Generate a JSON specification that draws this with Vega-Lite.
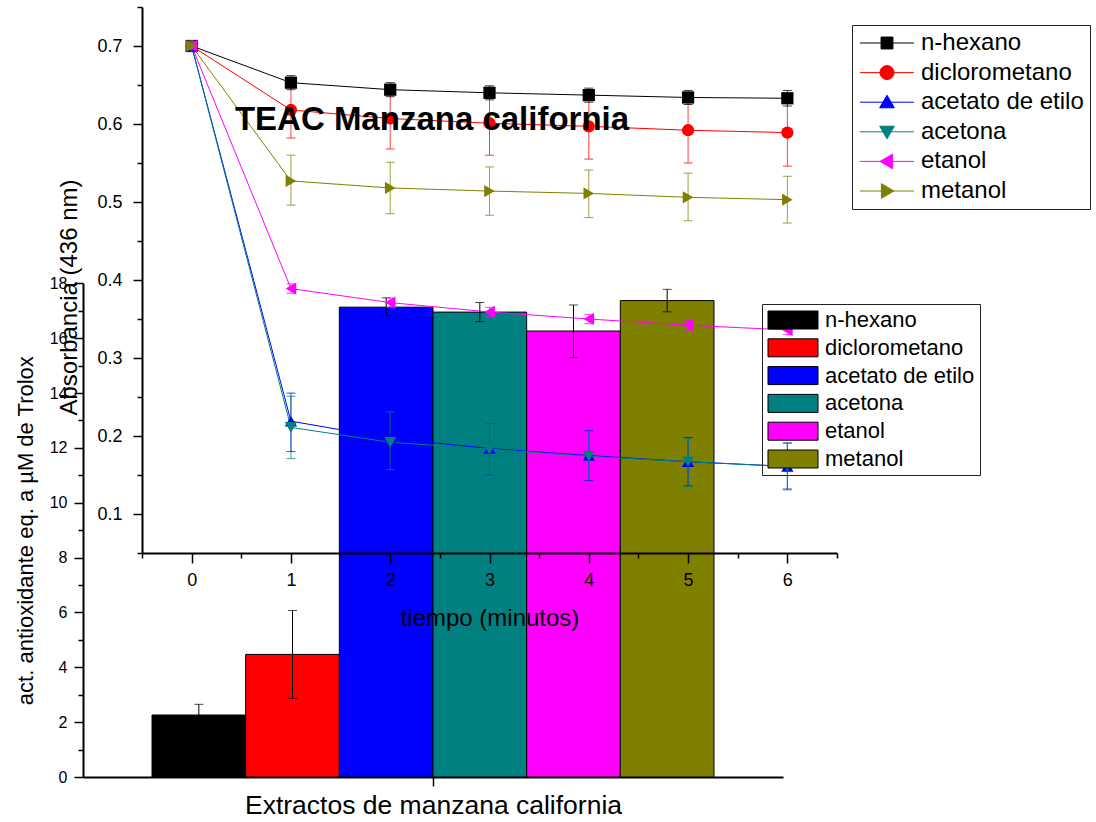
{
  "$schema": "https://vega.github.io/schema/vega-lite/v6.json",
  "autosize": "none",
  "width": 754,
  "height": 770,
  "padding": {"left": 83, "top": 7, "right": 259, "bottom": 45},
  "background": "white",
  "title": {"text": "TEAC Manzana california", "fontSize": 33, "fontWeight": "bold", "font": "Liberation Sans", "color": "black", "anchor": "middle", "frame": "group", "baseline": "alphabetic", "offset": 0, "dx": -28, "dy": 157},
  "config": {
    "font": "Liberation Sans",
    "view": {"stroke": null},
    "axis": {"grid": false, "domainColor": "black", "domainWidth": 2, "tickColor": "black", "tickWidth": 1.5, "labelColor": "black", "titleColor": "black", "titleFontWeight": "normal", "labelFont": "Liberation Sans", "titleFont": "Liberation Sans"},
    "legend": {"labelFont": "Liberation Sans", "labelColor": "black"}
  },
  "datasets": {
    "barras": [
      {"extracto": "manzana california", "solvente": "n-hexano", "valor": 2.26, "lo": 1.87, "hi": 2.65},
      {"extracto": "manzana california", "solvente": "diclorometano", "valor": 4.47, "lo": 2.87, "hi": 6.07},
      {"extracto": "manzana california", "solvente": "acetato de etilo", "valor": 17.13, "lo": 16.82, "hi": 17.47},
      {"extracto": "manzana california", "solvente": "acetona", "valor": 16.95, "lo": 16.6, "hi": 17.3},
      {"extracto": "manzana california", "solvente": "etanol", "valor": 16.26, "lo": 15.29, "hi": 17.21},
      {"extracto": "manzana california", "solvente": "metanol", "valor": 17.37, "lo": 16.96, "hi": 17.78}
    ],
    "cinetica": [
      {"solvente": "n-hexano", "t": 0, "abs": 0.7, "lo": null, "hi": null},
      {"solvente": "n-hexano", "t": 1, "abs": 0.653, "lo": 0.644, "hi": 0.662},
      {"solvente": "n-hexano", "t": 2, "abs": 0.644, "lo": 0.635, "hi": 0.653},
      {"solvente": "n-hexano", "t": 3, "abs": 0.64, "lo": 0.631, "hi": 0.649},
      {"solvente": "n-hexano", "t": 4, "abs": 0.637, "lo": 0.628, "hi": 0.646},
      {"solvente": "n-hexano", "t": 5, "abs": 0.634, "lo": 0.625, "hi": 0.643},
      {"solvente": "n-hexano", "t": 6, "abs": 0.633, "lo": 0.623, "hi": 0.643},
      {"solvente": "diclorometano", "t": 0, "abs": 0.7, "lo": null, "hi": null},
      {"solvente": "diclorometano", "t": 1, "abs": 0.618, "lo": 0.582, "hi": 0.654},
      {"solvente": "diclorometano", "t": 2, "abs": 0.607, "lo": 0.568, "hi": 0.646},
      {"solvente": "diclorometano", "t": 3, "abs": 0.601, "lo": 0.56, "hi": 0.642},
      {"solvente": "diclorometano", "t": 4, "abs": 0.597, "lo": 0.555, "hi": 0.639},
      {"solvente": "diclorometano", "t": 5, "abs": 0.592, "lo": 0.55, "hi": 0.634},
      {"solvente": "diclorometano", "t": 6, "abs": 0.589, "lo": 0.546, "hi": 0.632},
      {"solvente": "acetato de etilo", "t": 0, "abs": 0.7, "lo": null, "hi": null},
      {"solvente": "acetato de etilo", "t": 1, "abs": 0.219, "lo": 0.18, "hi": 0.255},
      {"solvente": "acetato de etilo", "t": 2, "abs": 0.197, "lo": 0.163, "hi": 0.231},
      {"solvente": "acetato de etilo", "t": 3, "abs": 0.184, "lo": 0.15, "hi": 0.216},
      {"solvente": "acetato de etilo", "t": 4, "abs": 0.175, "lo": 0.143, "hi": 0.207},
      {"solvente": "acetato de etilo", "t": 5, "abs": 0.167, "lo": 0.136, "hi": 0.198},
      {"solvente": "acetato de etilo", "t": 6, "abs": 0.161, "lo": 0.132, "hi": 0.191},
      {"solvente": "acetona", "t": 0, "abs": 0.7, "lo": null, "hi": null},
      {"solvente": "acetona", "t": 1, "abs": 0.211, "lo": 0.171, "hi": 0.251},
      {"solvente": "acetona", "t": 2, "abs": 0.192, "lo": 0.157, "hi": 0.231},
      {"solvente": "acetona", "t": 3, "abs": 0.183, "lo": 0.15, "hi": 0.216},
      {"solvente": "acetona", "t": 4, "abs": 0.174, "lo": 0.142, "hi": 0.206},
      {"solvente": "acetona", "t": 5, "abs": 0.167, "lo": 0.135, "hi": 0.197},
      {"solvente": "acetona", "t": 6, "abs": 0.161, "lo": 0.131, "hi": 0.191},
      {"solvente": "etanol", "t": 0, "abs": 0.7, "lo": null, "hi": null},
      {"solvente": "etanol", "t": 1, "abs": 0.389, "lo": 0.383, "hi": 0.395},
      {"solvente": "etanol", "t": 2, "abs": 0.371, "lo": 0.365, "hi": 0.377},
      {"solvente": "etanol", "t": 3, "abs": 0.359, "lo": 0.353, "hi": 0.365},
      {"solvente": "etanol", "t": 4, "abs": 0.35, "lo": 0.344, "hi": 0.356},
      {"solvente": "etanol", "t": 5, "abs": 0.342, "lo": 0.336, "hi": 0.348},
      {"solvente": "etanol", "t": 6, "abs": 0.336, "lo": 0.33, "hi": 0.342},
      {"solvente": "metanol", "t": 0, "abs": 0.7, "lo": null, "hi": null},
      {"solvente": "metanol", "t": 1, "abs": 0.527, "lo": 0.496, "hi": 0.56},
      {"solvente": "metanol", "t": 2, "abs": 0.518, "lo": 0.485, "hi": 0.551},
      {"solvente": "metanol", "t": 3, "abs": 0.514, "lo": 0.483, "hi": 0.545},
      {"solvente": "metanol", "t": 4, "abs": 0.511, "lo": 0.48, "hi": 0.541},
      {"solvente": "metanol", "t": 5, "abs": 0.506, "lo": 0.476, "hi": 0.537},
      {"solvente": "metanol", "t": 6, "abs": 0.503, "lo": 0.473, "hi": 0.533}
    ]
  },
  "layer": [
    {
      "data": {"name": "barras"},
      "encoding": {
        "x": {"field": "extracto", "type": "nominal", "scale": {"range": [0, 700], "paddingInner": 0, "paddingOuter": 0.1228},
          "axis": {"orient": "bottom", "labels": false, "bandPosition": 0.5, "tickSize": 9, "title": "Extractos de manzana california", "titleFontSize": 26.5, "titlePadding": 6}},
        "xOffset": {"field": "solvente", "type": "nominal", "sort": ["n-hexano", "diclorometano", "acetato de etilo", "acetona", "etanol", "metanol"], "scale": {"paddingInner": 0, "paddingOuter": 0}}
      },
      "layer": [
        {
          "mark": {"type": "bar", "stroke": "black", "strokeWidth": 1},
          "encoding": {
            "y": {"field": "valor", "type": "quantitative", "title": "act. antioxidante eq. a µM de Trolox", "scale": {"domain": [0, 18], "range": [770, 276.3], "nice": false},
              "axis": {"orient": "left", "values": [0, 1, 2, 3, 4, 5, 6, 7, 8, 9, 10, 11, 12, 13, 14, 15, 16, 17, 18], "labelExpr": "datum.value % 2 === 0 ? datum.label : ''", "tickSize": {"condition": {"test": "datum.value % 2 === 0", "value": 9}, "value": 5}, "labelFontSize": 16, "labelPadding": 7, "title": "act. antioxidante eq. a µM de Trolox", "titleFontSize": 22, "titlePadding": 12}},
            "fill": {"field": "solvente", "type": "nominal", "scale": {"domain": ["n-hexano", "diclorometano", "acetato de etilo", "acetona", "etanol", "metanol"], "range": ["#000000", "#FF0000", "#0000FF", "#008080", "#FF00FF", "#808000"]},
              "legend": {"orient": "none", "legendX": 679, "legendY": 297, "zindex": -1, "title": null, "padding": 5, "strokeColor": "#222", "labelFontSize": 22, "labelFont": "Liberation Sans", "labelColor": "black", "symbolType": "M-2.778,-1H2.778V1H-2.778Z", "symbolSize": 324, "symbolStrokeColor": "black", "symbolStrokeWidth": 1, "symbolOffset": 15, "labelOffset": 21, "rowPadding": 5.8, "labelLimit": 400}}
          }
        },
        {
          "mark": {"type": "rule", "color": "black", "strokeWidth": 1},
          "encoding": {
            "y": {"field": "lo", "type": "quantitative", "title": "act. antioxidante eq. a µM de Trolox", "scale": {"domain": [0, 18], "range": [770, 276.3], "nice": false}},
            "y2": {"field": "hi"}
          }
        },
        {
          "mark": {"type": "tick", "color": "black", "size": 9, "thickness": 1},
          "encoding": {"y": {"field": "hi", "type": "quantitative", "title": "act. antioxidante eq. a µM de Trolox", "scale": {"domain": [0, 18], "range": [770, 276.3], "nice": false}}}
        },
        {
          "mark": {"type": "tick", "color": "black", "size": 9, "thickness": 1},
          "encoding": {"y": {"field": "lo", "type": "quantitative", "title": "act. antioxidante eq. a µM de Trolox", "scale": {"domain": [0, 18], "range": [770, 276.3], "nice": false}}}
        }
      ]
    },
    {
      "data": {"name": "cinetica"},
      "encoding": {
        "x": {"field": "t", "type": "quantitative", "scale": {"domain": [-0.5, 6.5], "range": [59, 754], "nice": false, "zero": false},
          "axis": {"orient": "bottom", "offset": -224, "values": [-0.5, 0, 0.5, 1, 1.5, 2, 2.5, 3, 3.5, 4, 4.5, 5, 5.5, 6, 6.5], "labelExpr": "datum.value % 1 === 0 ? format(datum.value, 'd') : ''", "labelOverlap": false, "tickSize": {"condition": {"test": "datum.value % 1 === 0", "value": 10}, "value": 5}, "labelFontSize": 18, "labelPadding": 8, "title": "tiempo (minutos)", "titleFontSize": 24, "titlePadding": 17, "zindex": 1}},
        "color": {"field": "solvente", "type": "nominal", "scale": {"domain": ["n-hexano", "diclorometano", "acetato de etilo", "acetona", "etanol", "metanol"], "range": ["#000000", "#FF0000", "#0000FF", "#008080", "#FF00FF", "#808000"]}, "legend": null}
      },
      "layer": [
        {
          "mark": {"type": "line", "strokeWidth": 1},
          "encoding": {
            "y": {"field": "abs", "type": "quantitative", "title": "Absorbancia (436 nm)", "scale": {"domain": [0.05, 0.75], "range": [546, 0], "nice": false, "zero": false},
              "axis": {"orient": "left", "offset": -59, "values": [0.05, 0.1, 0.15, 0.2, 0.25, 0.3, 0.35, 0.4, 0.45, 0.5, 0.55, 0.6, 0.65, 0.7, 0.75], "format": ".1f", "labelExpr": "abs(datum.value*10 - round(datum.value*10)) < 0.001 ? datum.label : ''", "tickSize": {"condition": {"test": "abs(datum.value*10 - round(datum.value*10)) < 0.001", "value": 9}, "value": 5}, "labelFontSize": 18, "labelPadding": 11, "title": "Absorbancia (436 nm)", "titleFontSize": 24, "titlePadding": 15, "titleY": 290, "zindex": 1}}
          }
        },
        {
          "mark": {"type": "rule", "strokeWidth": 1, "opacity": 0.75},
          "encoding": {
            "y": {"field": "lo", "type": "quantitative", "title": "Absorbancia (436 nm)", "scale": {"domain": [0.05, 0.75], "range": [546, 0], "nice": false, "zero": false}},
            "y2": {"field": "hi"}
          }
        },
        {
          "mark": {"type": "tick", "orient": "horizontal", "size": 9, "thickness": 1, "opacity": 0.75},
          "encoding": {"y": {"field": "hi", "type": "quantitative", "title": "Absorbancia (436 nm)", "scale": {"domain": [0.05, 0.75], "range": [546, 0], "nice": false, "zero": false}}}
        },
        {
          "mark": {"type": "tick", "orient": "horizontal", "size": 9, "thickness": 1, "opacity": 0.75},
          "encoding": {"y": {"field": "lo", "type": "quantitative", "title": "Absorbancia (436 nm)", "scale": {"domain": [0.05, 0.75], "range": [546, 0], "nice": false, "zero": false}}}
        },
        {
          "mark": {"type": "point", "filled": true, "size": 150, "opacity": 1},
          "encoding": {
            "y": {"field": "abs", "type": "quantitative", "title": "Absorbancia (436 nm)", "scale": {"domain": [0.05, 0.75], "range": [546, 0], "nice": false, "zero": false}},
            "shape": {"field": "solvente", "type": "nominal", "scale": {"domain": ["n-hexano", "diclorometano", "acetato de etilo", "acetona", "etanol", "metanol"], "range": ["square", "circle", "triangle-up", "triangle-down", "triangle-left", "triangle-right"]}, "legend": null}
          }
        },
        {
          "transform": [{"filter": "false"}],
          "mark": {"type": "point", "filled": true, "size": 196, "strokeWidth": 1, "opacity": 1},
          "encoding": {
            "y": {"field": "abs", "type": "quantitative", "title": "Absorbancia (436 nm)", "scale": {"domain": [0.05, 0.75], "range": [546, 0], "nice": false, "zero": false}},
            "fill": {"field": "solvente", "type": "nominal", "scale": {"domain": ["n-hexano", "diclorometano", "acetato de etilo", "acetona", "etanol", "metanol"], "range": ["#000000", "#FF0000", "#0000FF", "#008080", "#FF00FF", "#808000"]},
              "legend": {"orient": "none", "legendX": 769, "legendY": 18, "title": null, "padding": 6, "strokeColor": "#222", "fillColor": "white", "labelFontSize": 24, "labelFont": "Liberation Sans", "labelColor": "black", "symbolSize": 196, "symbolStrokeWidth": 1, "symbolOpacity": 1, "symbolOffset": 17, "labelOffset": 22, "rowPadding": 5.6, "labelLimit": 400}},
            "stroke": {"field": "solvente", "type": "nominal", "scale": {"domain": ["n-hexano", "diclorometano", "acetato de etilo", "acetona", "etanol", "metanol"], "range": ["#000000", "#FF0000", "#0000FF", "#008080", "#FF00FF", "#808000"]},
              "legend": {"orient": "none", "legendX": 769, "legendY": 18, "title": null, "padding": 6, "strokeColor": "#222", "fillColor": "white", "labelFontSize": 24, "labelFont": "Liberation Sans", "labelColor": "black", "symbolSize": 196, "symbolStrokeWidth": 1, "symbolOpacity": 1, "symbolOffset": 17, "labelOffset": 22, "rowPadding": 5.6, "labelLimit": 400}},
            "shape": {"field": "solvente", "type": "nominal", "scale": {"domain": ["n-hexano", "diclorometano", "acetato de etilo", "acetona", "etanol", "metanol"], "range": ["M-3.857,0H3.857M-0.85,-0.85H0.85V0.85H-0.85Z", "M-3.857,0H3.857M-1,0A1,1 0 1,0 1,0A1,1 0 1,0 -1,0Z", "M-3.857,0H3.857M0,-1L1.05,0.8H-1.05Z", "M-3.857,0H3.857M0,1L1.05,-0.8H-1.05Z", "M-3.857,0H3.857M-1,0L0.8,-1.05V1.05Z", "M-3.857,0H3.857M1,0L-0.8,-1.05V1.05Z"]},
              "legend": {"orient": "none", "legendX": 769, "legendY": 18, "title": null, "padding": 6, "strokeColor": "#222", "fillColor": "white", "labelFontSize": 24, "labelFont": "Liberation Sans", "labelColor": "black", "symbolSize": 196, "symbolStrokeWidth": 1, "symbolOpacity": 1, "symbolOffset": 17, "labelOffset": 22, "rowPadding": 5.6, "labelLimit": 400}}
          }
        }
      ],
      "resolve": {"scale": {"fill": "independent", "stroke": "independent", "shape": "independent"}}
    }
  ],
  "resolve": {"scale": {"x": "independent", "y": "independent", "fill": "independent", "color": "independent", "xOffset": "independent"}}
}
